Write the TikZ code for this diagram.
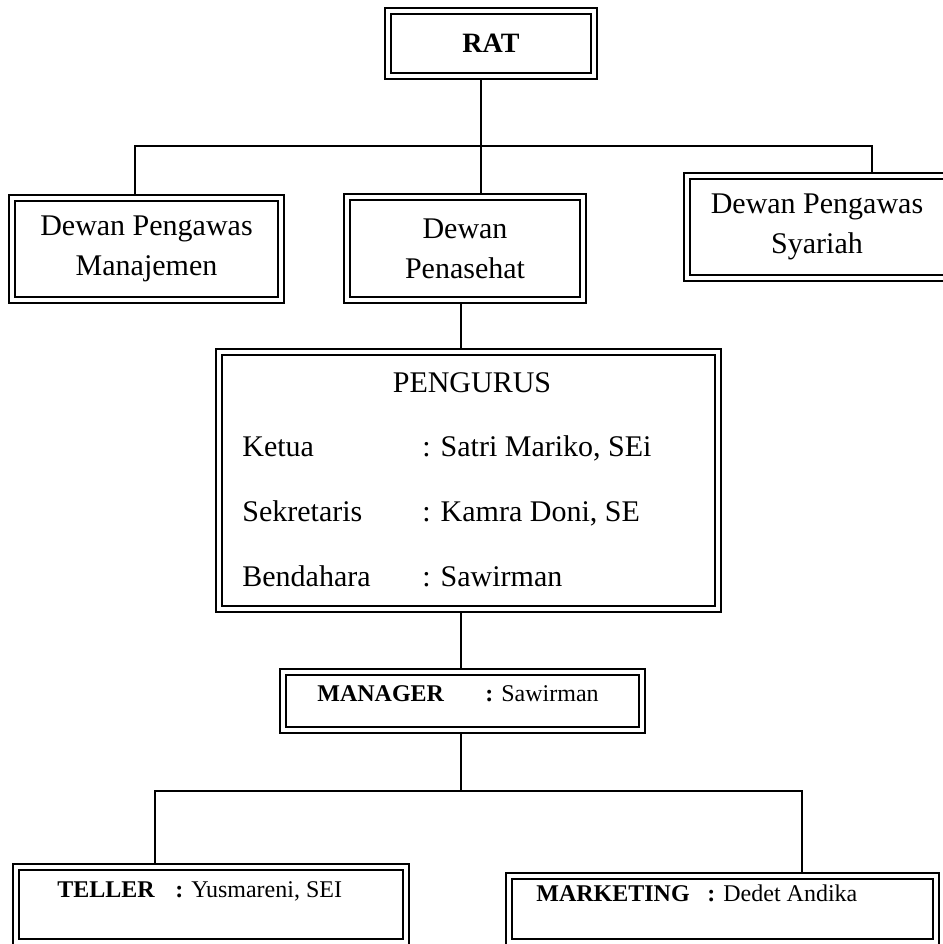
\documentclass[tikz,border=0pt]{standalone}
\usepackage{fontspec}
\setmainfont{Liberation Serif}
\usetikzlibrary{positioning, backgrounds}

\begin{document}
\begin{tikzpicture}[
  x=0.5pt, y=-0.5pt,
  box/.style={draw, double, double distance=2.2pt, line width=0.9pt, inner sep=0pt,
              align=center, font=\fontsize{15}{20}\selectfont},
  conn/.style={line width=0.6pt},
  txt/.style={inner sep=0pt, anchor=base west, font=\fontsize{15}{18}\selectfont},
  staff/.style={txt, font=\fontsize{12}{14}\selectfont},
]
\useasboundingbox (0,0) rectangle (943,944);

% kotak struktur
\node[box, minimum width=103pt, minimum height=32.5pt, font=\fontsize{14}{17}\selectfont\bfseries] (rat) at (491,43.5) {RAT};
\node[box, minimum width=134.5pt, minimum height=51pt] (dpm) at (146.5,249) {Dewan Pengawas\\Manajemen};
\node[box, minimum width=118pt, minimum height=51.5pt] (penasehat) at (465,248.5) {Dewan\\Penasehat};
\node[box, minimum width=130pt, minimum height=51pt] (dps) at (817,227) {Dewan Pengawas\\Syariah};
\node[box, minimum width=249.5pt, minimum height=128.5pt] (pengurus) at (468.5,480.5) {};
\node[box, minimum width=179.5pt, minimum height=29pt] (manager) at (462.5,701) {};
\node[box, minimum width=195pt, minimum height=37.5pt] (teller) at (211,904.5) {};
\node[box, minimum width=213.5pt, minimum height=33pt] (marketing) at (722.5,909) {};

% isi pengurus
\node[txt, anchor=base] (pengurusT) at (472,392) {PENGURUS};
\node[txt] (ketua) at (242,456) {Ketua};
\node[txt] (ketuaN) at (422,456) {: Satri Mariko, SEi};
\node[txt] (sekretaris) at (242,521) {Sekretaris};
\node[txt] (sekretarisN) at (422,521) {: Kamra Doni, SE};
\node[txt] (bendahara) at (242,586) {Bendahara};
\node[txt] (bendaharaN) at (422,586) {: Sawirman};

% pelaksana
\node[staff, font=\fontsize{12}{14}\selectfont\bfseries] (managerT) at (317,701) {MANAGER};
\node[staff] (managerN) at (485,701) {\textbf{:} Sawirman};
\node[staff, font=\fontsize{12}{14}\selectfont\bfseries] (tellerT) at (57,897) {TELLER};
\node[staff] (tellerN) at (175,897) {\textbf{:} Yusmareni, SEI};
\node[staff, font=\fontsize{12}{14}\selectfont\bfseries] (marketingT) at (536,901) {MARKETING};
\node[staff] (marketingN) at (707,901) {\textbf{:} Dedet Andika};

% garis
\coordinate (busL) at (135,146);
\coordinate (busM) at (481,146);
\coordinate (busR) at (872,146);
\coordinate (axis) at (461,0);
\coordinate (footL) at (155,791);
\coordinate (footR) at (802,791);

\begin{scope}[on background layer]
\draw[conn] (rat.south -| busM) -- (penasehat.north -| busM);
\draw[conn] (dpm.north -| busL) -- (busL) -- (busR) -- (dps.north -| busR);
\draw[conn] (penasehat.south -| axis) -- (pengurus.north -| axis);
\draw[conn] (pengurus.south -| axis) -- (manager.north -| axis);
\draw[conn] (manager.south -| axis) -- (axis |- footL);
\draw[conn] (teller.north -| footL) -- (footL) -- (footR) -- (marketing.north -| footR);
\end{scope}
\end{tikzpicture}
\end{document}
